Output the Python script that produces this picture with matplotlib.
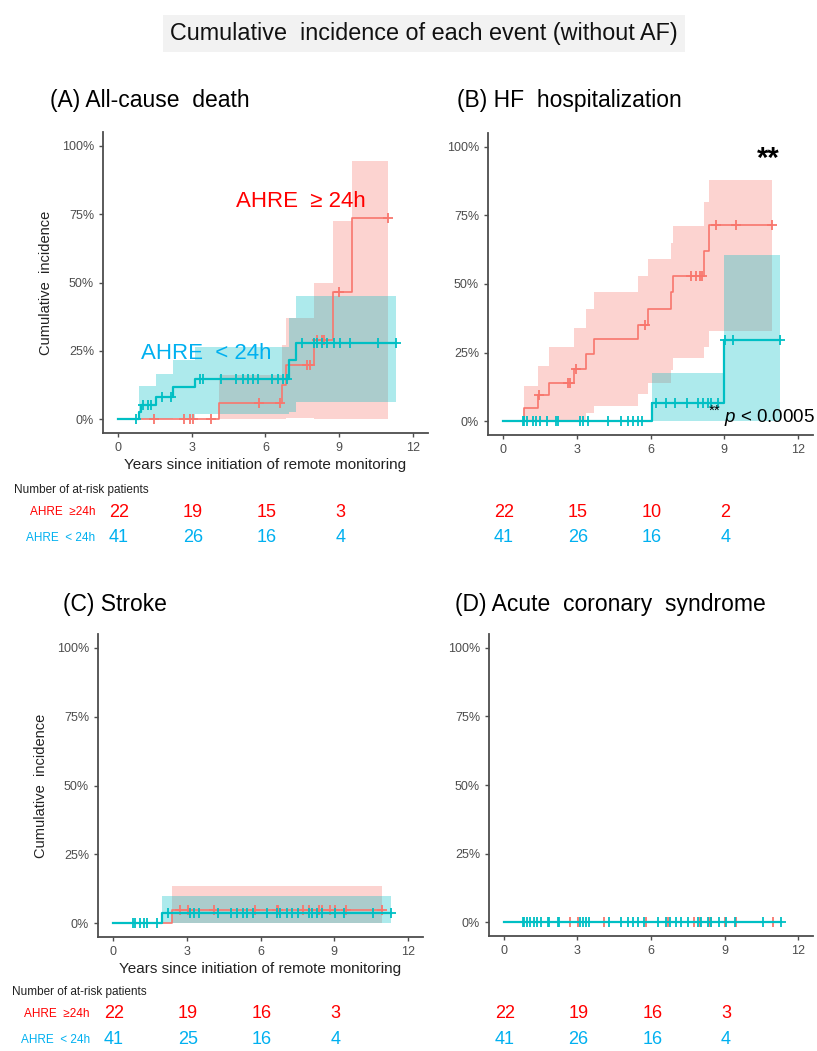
import numpy as np
import matplotlib
matplotlib.use("Agg")
import matplotlib.pyplot as plt

plt.rcParams["font.family"] = ["Liberation Sans", "DejaVu Sans"]
plt.rcParams["mathtext.fontset"] = "custom"
plt.rcParams["mathtext.rm"] = "Liberation Sans"
plt.rcParams["mathtext.it"] = "Liberation Sans:italic"

RED_LINE   = "#F8766D"
CYAN_LINE  = "#00BFC4"
RED_TEXT   = "#FF0000"
BLUE_TEXT  = "#00B0F0"
AXIS_GREY  = "#4d4d4d"
NARROW     = ["Liberation Sans Narrow", "Liberation Sans", "DejaVu Sans"]

# ---- (A) All-cause death ----
A_red_t    = [0, 4.10, 6.68, 6.82, 7.98, 8.76, 9.51, 10.98]
A_red_s    = [0, 0.061, 0.125, 0.20, 0.29, 0.465, 0.735, 0.735]
A_red_lo   = [0, 0, 0, 0.005, 0, 0, 0, 0]
A_red_hi   = [0, 0.162, 0.27, 0.37, 0.50, 0.725, 0.945, 0.945]
A_red_cens = [1.47, 2.68, 2.95, 3.06, 3.78, 5.73, 6.59, 7.68, 7.79, 8.08,
              8.29, 8.38, 8.97, 10.98]

A_blue_t    = [0, 0.85, 0.95, 1.54, 2.24, 3.14, 6.97, 7.24, 11.30]
A_blue_s    = [0, 0.025, 0.052, 0.083, 0.117, 0.148, 0.217, 0.28, 0.28]
A_blue_lo   = [0, 0, 0, 0, 0.005, 0.02, 0.025, 0.065, 0.065]
A_blue_hi   = [0, 0.12, 0.12, 0.165, 0.217, 0.263, 0.37, 0.45, 0.45]
A_blue_cens = [0.75, 1.02, 1.22, 1.36, 1.81, 2.17, 3.33, 3.46, 4.21, 4.82,
               5.10, 5.30, 5.50, 5.71, 6.25, 6.52, 6.73, 6.86, 7.50, 7.98,
               8.08, 8.29, 8.49, 8.79, 9.04, 9.42, 10.57, 11.30]

# ---- (B) HF hospitalization ----
B_red_t    = [0, 0.85, 1.42, 1.86, 2.89, 3.39, 3.69, 5.50, 5.90, 6.82, 6.92,
              8.18, 8.37, 10.94]
B_red_s    = [0, 0.05, 0.095, 0.14, 0.19, 0.245, 0.30, 0.35, 0.41, 0.47, 0.53,
              0.62, 0.715, 0.715]
B_red_lo   = [0, 0, 0, 0, 0, 0.03, 0.055, 0.10, 0.14, 0.185, 0.23, 0.27,
              0.33, 0.33]
B_red_hi   = [0, 0.13, 0.20, 0.27, 0.34, 0.41, 0.47, 0.53, 0.59, 0.65, 0.71,
              0.80, 0.88, 0.88]
B_red_cens = [1.46, 2.64, 2.74, 2.96, 5.76, 7.66, 7.86, 8.00, 8.09, 8.68,
              9.46, 10.94]

B_blue_t    = [0, 6.06, 8.99, 11.25]
B_blue_s    = [0, 0.065, 0.295, 0.295]
B_blue_lo   = [0, 0, 0, 0]
B_blue_hi   = [0, 0.175, 0.605, 0.605]
B_blue_cens = [0.81, 0.88, 0.98, 1.22, 1.36, 1.52, 1.79, 2.17, 2.24, 3.12,
               3.25, 3.46, 4.27, 4.81, 5.08, 5.29, 5.49, 5.67, 6.24, 6.64,
               6.98, 7.48, 7.93, 8.14, 8.34, 8.47, 8.75, 9.02, 9.36, 11.25]

# ---- (C) Stroke ----
C_red_t    = [0, 2.42, 10.94]
C_red_s    = [0, 0.048, 0.048]
C_red_lo   = [0, 0, 0]
C_red_hi   = [0, 0.135, 0.135]
C_red_cens = [2.72, 3.06, 4.10, 5.77, 6.66, 6.73, 7.74, 7.99, 8.36, 8.49,
              8.83, 9.04, 9.48, 10.94]

C_blue_t    = [0, 1.98, 11.28]
C_blue_s    = [0, 0.036, 0.036]
C_blue_lo   = [0, 0, 0]
C_blue_hi   = [0, 0.10, 0.10]
C_blue_cens = [0.82, 0.91, 1.09, 1.26, 1.40, 1.79, 2.24, 3.15, 3.29, 3.51,
               4.28, 4.82, 5.05, 5.27, 5.46, 5.68, 6.25, 6.66, 6.79, 7.07,
               7.27, 7.54, 7.95, 8.08, 8.29, 8.49, 9.04, 9.40, 10.57, 11.28]

# ---- (D) Acute coronary syndrome ----
D_red_t    = [0, 10.98]
D_red_s    = [0, 0]
D_red_lo   = [0, 0]
D_red_hi   = [0, 0]
D_red_cens = [2.68, 3.02, 4.07, 5.78, 6.69, 7.75, 8.01, 8.37, 8.46, 9.00,
              9.48, 10.98]

D_blue_t    = [0, 11.28]
D_blue_s    = [0, 0]
D_blue_lo   = [0, 0]
D_blue_hi   = [0, 0]
D_blue_cens = [0.78, 0.84, 0.94, 1.05, 1.25, 1.35, 1.52, 1.80, 1.86, 2.20,
               2.24, 3.09, 3.22, 3.36, 3.47, 4.29, 4.79, 5.06, 5.27, 5.47,
               5.70, 6.29, 6.63, 6.76, 7.00, 7.24, 7.51, 7.92, 8.05, 8.33,
               8.46, 8.78, 9.05, 9.41, 10.57, 11.28]

# ---- numbers at risk (at 0, 3, 6, 9 years) ----
RISK_TIMES = [0, 3, 6, 9]
A_risk_red, A_risk_blue = [22, 19, 15, 3], [41, 26, 16, 4]
B_risk_red, B_risk_blue = [22, 15, 10, 2], [41, 26, 16, 4]
C_risk_red, C_risk_blue = [22, 19, 16, 3], [41, 25, 16, 4]
D_risk_red, D_risk_blue = [22, 19, 16, 3], [41, 26, 16, 4]

X_TICKS = [0, 3, 6, 9, 12]
Y_TICKS = [0, 0.25, 0.5, 0.75, 1.0]
Y_TICK_LABELS = ["0%", "25%", "50%", "75%", "100%"]

W, H = 817, 1051


def fx(px):
    return px / W


def fy(py):
    return 1 - py / H


def add_axes(left, right, top, bottom):
    return fig.add_axes([fx(left), fy(bottom), fx(right - left), (bottom - top) / H])


def draw_group(ax, t, s, lo, hi, cens, color, lw):
    t, s = np.asarray(t), np.asarray(s)
    ax.fill_between(t, lo, hi, step="post", color=color, alpha=0.32,
                    linewidth=0)
    ax.step(t, s, where="post", color=color, linewidth=lw)
    cens = np.asarray(cens)
    idx = np.searchsorted(t, cens, side="right") - 1
    ax.plot(cens, s[idx], linestyle="none", marker="+", color=color,
            markersize=7.5, markeredgewidth=1.3)


def style_axes(ax, ylabel=False, xlabel=False):
    ax.set_xlim(-0.6, 12.6)
    ax.set_ylim(-0.05, 1.05)
    ax.set_xticks(X_TICKS)
    ax.set_yticks(Y_TICKS)
    ax.set_yticklabels(Y_TICK_LABELS)
    for side in ["top", "right"]:
        ax.spines[side].set_visible(False)
    for side in ["left", "bottom"]:
        ax.spines[side].set_color(AXIS_GREY)
        ax.spines[side].set_linewidth(1.3)
    ax.tick_params(colors=AXIS_GREY, labelsize=9, length=3, width=1,
                   labelcolor=AXIS_GREY)
    if ylabel:
        ax.set_ylabel("Cumulative  incidence", fontsize=10.5, color="#222222",
                      labelpad=6)
    if xlabel:
        ax.set_xlabel("Years since initiation of remote monitoring",
                      fontsize=11, color="#222222", labelpad=3)


def risk_table(ax, red, blue, y_head, y_red, y_blue, labels=True, x_lab=None):
    trans = matplotlib.transforms.blended_transform_factory(ax.transData,
                                                            fig.transFigure)
    for x, r, b in zip(RISK_TIMES, red, blue):
        fig.text(x + 0.05, fy(y_red), str(r), transform=trans, color=RED_TEXT,
                 fontsize=13, ha="center", va="center")
        fig.text(x + 0.05, fy(y_blue), str(b), transform=trans, color=BLUE_TEXT,
                 fontsize=13, ha="center", va="center")
    if labels:
        fig.text(fx(x_lab[0]), fy(y_head), "Number of at-risk patients",
                 fontsize=8.5, family=NARROW, ha="left", va="center",
                 color="#222222")
        fig.text(fx(x_lab[1]), fy(y_red), "AHRE  \u226524h", fontsize=8.5,
                 family=NARROW, ha="right", va="center", color=RED_TEXT)
        fig.text(fx(x_lab[1]), fy(y_blue), "AHRE  < 24h", fontsize=8.5,
                 family=NARROW, ha="right", va="center", color=BLUE_TEXT)


fig = plt.figure(figsize=(W / 100, H / 100), dpi=100)
fig.patch.set_facecolor("white")

fig.text(fx(424), fy(33), "Cumulative  incidence of each event (without AF)",
         fontsize=16.8, ha="center", va="center", color="#111111",
         bbox=dict(facecolor="#f2f2f2", edgecolor="none",
                   boxstyle="square,pad=0.3"))

axA = add_axes(103, 428, 132, 433)
axB = add_axes(488, 813, 133, 435)
axC = add_axes(98, 423, 634, 937)
axD = add_axes(489, 813, 634, 936)

panels = [
    (axA, (A_red_t, A_red_s, A_red_lo, A_red_hi, A_red_cens),
     (A_blue_t, A_blue_s, A_blue_lo, A_blue_hi, A_blue_cens)),
    (axB, (B_red_t, B_red_s, B_red_lo, B_red_hi, B_red_cens),
     (B_blue_t, B_blue_s, B_blue_lo, B_blue_hi, B_blue_cens)),
    (axC, (C_red_t, C_red_s, C_red_lo, C_red_hi, C_red_cens),
     (C_blue_t, C_blue_s, C_blue_lo, C_blue_hi, C_blue_cens)),
    (axD, (D_red_t, D_red_s, D_red_lo, D_red_hi, D_red_cens),
     (D_blue_t, D_blue_s, D_blue_lo, D_blue_hi, D_blue_cens)),
]
for ax, red, blue in panels:
    draw_group(ax, *red, color=RED_LINE, lw=1.2)
    draw_group(ax, *blue, color=CYAN_LINE, lw=1.6)

style_axes(axA, ylabel=True, xlabel=True)
style_axes(axB)
style_axes(axC, ylabel=True, xlabel=True)
style_axes(axD)

# panel titles
fig.text(fx(50), fy(101), "(A) All-cause  death", fontsize=16.5, va="center")
fig.text(fx(457), fy(101), "(B) HF  hospitalization", fontsize=16.5,
         va="center")
fig.text(fx(63), fy(604), "(C) Stroke", fontsize=16.5, va="center")
fig.text(fx(455), fy(604), "(D) Acute  coronary  syndrome", fontsize=16.5,
         va="center")

# group labels in panel A
axA.text(7.44, 0.795, "AHRE  \u2265 24h", color=RED_TEXT, fontsize=16,
         ha="center", va="center")
axA.text(3.58, 0.242, "AHRE  < 24h", color=BLUE_TEXT, fontsize=16,
         ha="center", va="center")

# significance in panel B
axB.text(10.78, 0.955, "**", fontsize=21, fontweight="bold", ha="center",
         va="center")
axB.text(12.69, 0.015, r"$\mathit{p}$ < 0.0005", fontsize=13.5, ha="right",
         va="center", clip_on=False)
axB.text(8.85, 0.04, "**", fontsize=11, ha="right", va="center")

# number-at-risk tables
risk_table(axA, A_risk_red, A_risk_blue, 490, 512, 538, True, (14, 95))
risk_table(axB, B_risk_red, B_risk_blue, 490, 512, 538, False)
risk_table(axC, C_risk_red, C_risk_blue, 992, 1014, 1040, True, (12, 90))
risk_table(axD, D_risk_red, D_risk_blue, 992, 1014, 1040, False)

fig.savefig("out.png", dpi=100)
